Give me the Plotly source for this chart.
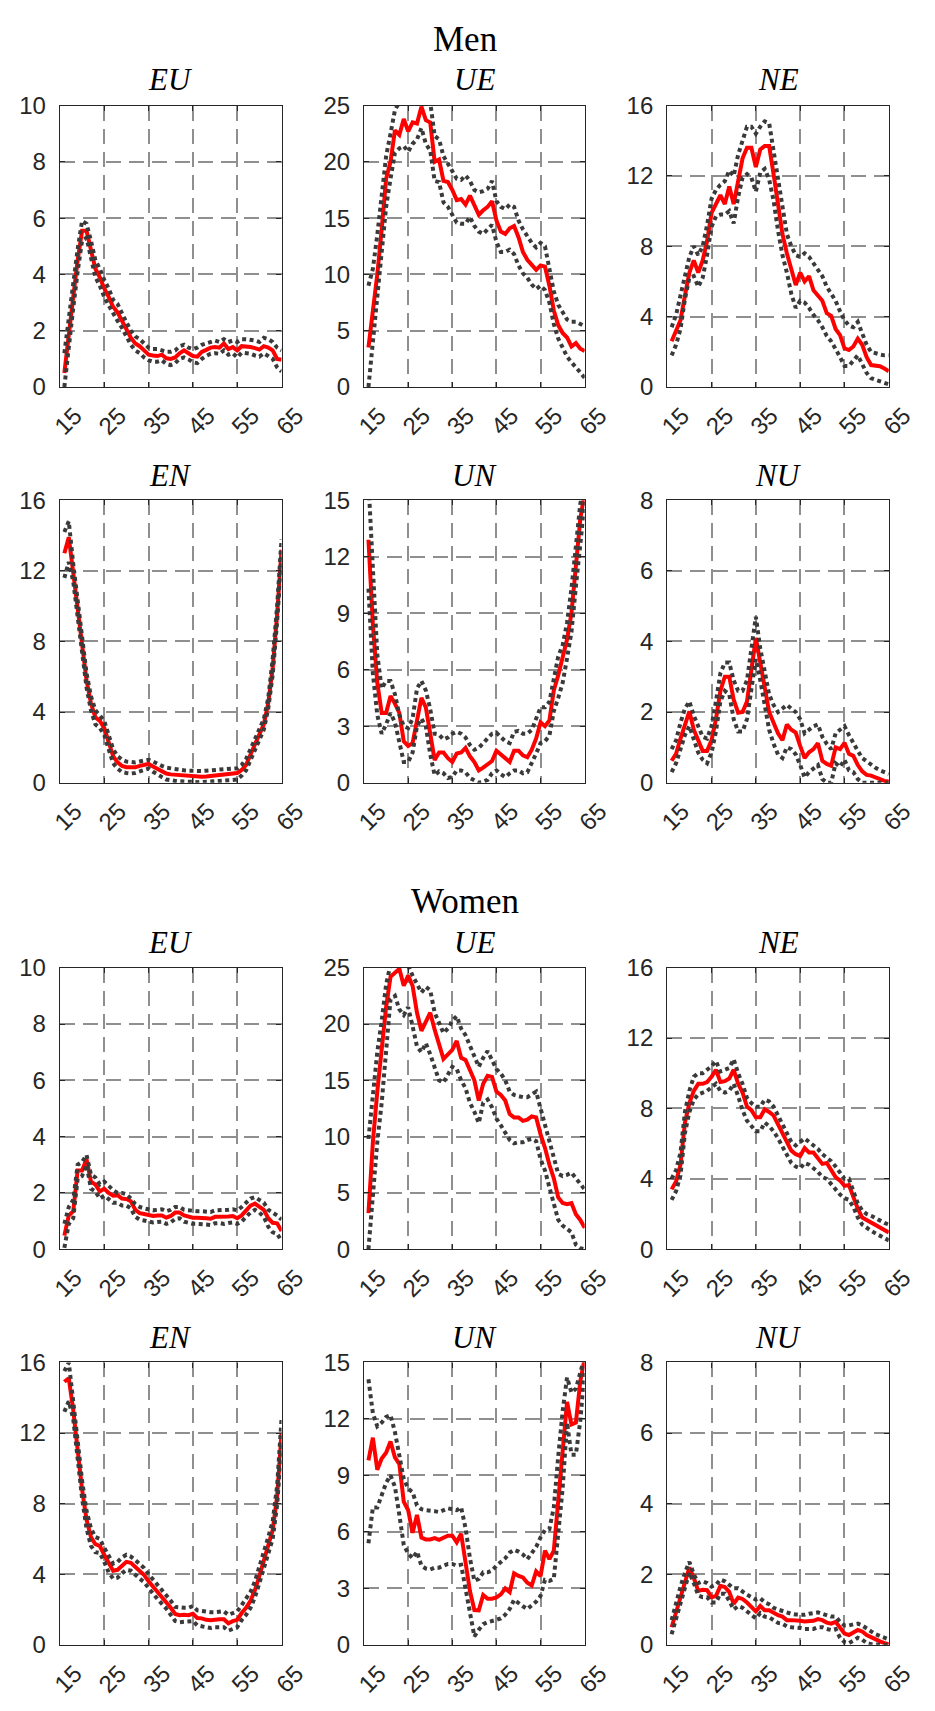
import plotly.graph_objects as go

# Age grid (years)
ages = list(range(16, 66))

# ---------------- Men ----------------
men_eu_mid = [0.5, 2.0, 3.2, 4.5, 5.55, 5.55, 4.9, 4.2, 3.9, 3.5,
              3.2, 2.85, 2.65, 2.35, 2.05, 1.75, 1.55, 1.45, 1.3, 1.15,
              1.12, 1.1, 1.15, 1.02, 1.0, 1.05, 1.2, 1.3, 1.2, 1.1,
              1.08, 1.25, 1.32, 1.4, 1.42, 1.4, 1.55, 1.35, 1.42, 1.3,
              1.45, 1.45, 1.42, 1.38, 1.33, 1.45, 1.4, 1.3, 1.0, 0.97]
men_eu_hi = [1.2, 2.5, 3.6, 4.9, 5.9, 5.8, 5.2, 4.5, 4.2, 3.8,
             3.5, 3.1, 2.95, 2.6, 2.3, 2.0, 1.8, 1.7, 1.55, 1.4,
             1.35, 1.35, 1.3, 1.25, 1.25, 1.3, 1.45, 1.5, 1.4, 1.35,
             1.4, 1.5, 1.55, 1.6, 1.65, 1.6, 1.7, 1.6, 1.65, 1.6,
             1.7, 1.7, 1.68, 1.65, 1.6, 1.75, 1.7, 1.6, 1.4, 1.3]
men_eu_lo = [0.0, 1.5, 2.8, 4.1, 5.2, 5.3, 4.6, 3.9, 3.6, 3.2,
             2.9, 2.6, 2.35, 2.1, 1.8, 1.5, 1.3, 1.2, 1.05, 0.95,
             0.9, 0.9, 0.95, 0.82, 0.78, 0.85, 1.0, 1.05, 0.98, 0.88,
             0.85, 1.0, 1.1, 1.18, 1.2, 1.18, 1.3, 1.15, 1.2, 1.05,
             1.22, 1.2, 1.18, 1.12, 1.08, 1.2, 1.1, 1.0, 0.7, 0.55]

men_ue_mid = [3.5, 6.5, 10.0, 14.0, 18.5, 20.0, 22.8, 22.4, 23.8, 22.7,
              23.5, 23.4, 24.9, 23.7, 23.5, 20.0, 20.2, 18.3, 18.2, 17.5,
              16.6, 16.7, 16.2, 17.0, 16.2, 15.3, 15.7, 16.0, 16.5, 14.8,
              13.8, 13.6, 14.1, 14.3, 13.3, 12.0, 11.3, 10.8, 10.4, 10.8,
              10.7, 9.0, 6.8, 5.5, 4.8, 4.4, 3.6, 3.9, 3.4, 3.2]
men_ue_hi = [9.0, 10.5, 13.5, 17.0, 20.5, 22.5, 24.6, 25.3, 25.5, 25.3,
             25.5, 25.5, 25.6, 25.5, 25.3, 22.3, 22.0, 20.5, 19.8, 19.2,
             18.5, 18.4, 18.8, 18.3, 17.5, 17.3, 17.4, 17.6, 18.3, 16.5,
             16.0, 15.8, 16.2, 16.0, 14.8, 14.0, 13.4, 12.8, 12.4, 12.8,
             12.5, 10.5, 8.5, 7.3, 6.6, 6.0, 5.8, 5.8, 5.6, 5.4]
men_ue_lo = [0.0, 4.0, 7.5, 11.5, 16.0, 18.5, 20.8, 21.2, 21.4, 20.9,
             21.6, 22.0, 23.0, 21.6, 21.0, 18.3, 18.2, 16.4, 16.0, 15.3,
             14.6, 14.5, 14.5, 15.1, 14.3, 13.8, 13.6, 14.0, 14.4, 12.9,
             12.0, 12.0, 12.2, 11.8, 10.8, 10.1, 9.7, 9.1, 8.7, 9.0,
             8.6, 7.5, 5.6, 4.3, 3.4, 2.7, 2.2, 1.8, 1.3, 0.8]

men_ne_mid = [2.6, 3.2, 3.8, 5.2, 6.5, 7.2, 6.5, 7.2, 8.3, 9.9,
              10.4, 10.9, 10.4, 11.4, 10.4, 11.8, 13.0, 13.6, 13.6, 12.5,
              13.5, 13.7, 13.7, 12.1, 10.5, 8.7, 7.6, 6.6, 5.8, 6.5,
              6.0, 6.3, 5.5, 5.2, 4.9, 4.2, 4.05, 3.3, 2.95, 2.2,
              2.1, 2.3, 2.75, 2.4, 1.7, 1.25, 1.2, 1.18, 1.05, 0.9]
men_ne_hi = [3.4, 4.1, 5.2, 6.4, 7.4, 8.0, 7.5, 8.0, 9.2, 10.7,
             11.2, 11.5, 11.7, 12.3, 12.0, 13.2, 14.1, 14.8, 14.8, 14.4,
             14.8, 15.1, 15.0, 13.4, 11.6, 10.0, 8.7, 8.0, 7.5, 7.4,
             7.6, 7.4, 7.0, 6.6, 6.3, 5.7, 5.3, 4.9, 4.3, 3.8,
             3.5, 3.4, 3.7, 3.0, 2.4, 2.0, 1.9, 1.85, 1.8, 1.8]
men_ne_lo = [1.8, 2.4, 3.3, 5.0, 6.2, 6.3, 5.7, 6.2, 7.5, 9.1,
             9.7, 9.8, 9.8, 10.0, 9.3, 10.8, 11.9, 12.1, 11.9, 11.1,
             12.2, 12.4, 11.8, 10.6, 8.9, 7.5, 6.5, 5.3, 4.5, 4.9,
             4.8, 4.5, 4.1, 3.8, 3.4, 2.9, 2.6, 2.2, 1.7, 1.2,
             1.2, 1.5, 1.8, 1.3, 0.8, 0.5, 0.4, 0.35, 0.25, 0.15]

men_en_mid = [13.0, 13.9, 11.9, 9.9, 7.6, 5.8, 4.5, 3.7, 3.5, 3.1,
              2.3, 1.5, 1.15, 0.95, 0.88, 0.85, 0.87, 0.95, 1.02, 1.06,
              0.92, 0.78, 0.65, 0.52, 0.47, 0.45, 0.42, 0.38, 0.35, 0.33,
              0.32, 0.33, 0.35, 0.38, 0.4, 0.43, 0.46, 0.48, 0.5, 0.55,
              0.72, 1.0, 1.6, 2.2, 2.7, 3.3, 4.5, 6.5, 9.5, 13.2]
men_en_hi = [14.2, 14.8, 12.4, 10.3, 8.0, 6.2, 4.9, 4.1, 3.8, 3.5,
             2.7, 1.9, 1.5, 1.3, 1.2, 1.15, 1.15, 1.2, 1.25, 1.3,
             1.2, 1.05, 0.95, 0.85, 0.8, 0.75, 0.72, 0.7, 0.68, 0.66,
             0.65, 0.66, 0.68, 0.7, 0.72, 0.74, 0.76, 0.78, 0.8, 0.82,
             1.0, 1.35, 1.9, 2.5, 3.0, 3.6, 4.8, 7.0, 10.0, 13.8]
men_en_lo = [11.6, 12.5, 11.4, 9.4, 7.2, 5.4, 4.1, 3.3, 3.1, 2.7,
             1.9, 1.1, 0.8, 0.6, 0.55, 0.52, 0.55, 0.65, 0.75, 0.8,
             0.62, 0.45, 0.32, 0.18, 0.12, 0.1, 0.08, 0.06, 0.05, 0.04,
             0.03, 0.04, 0.05, 0.06, 0.08, 0.1, 0.12, 0.14, 0.15, 0.18,
             0.4, 0.7, 1.3, 1.9, 2.4, 3.0, 4.2, 6.1, 9.1, 12.8]

men_un_mid = [12.9, 8.4, 5.3, 3.7, 3.7, 4.6, 4.2, 3.7, 2.2, 1.95,
              2.1, 3.4, 4.5, 4.0, 2.7, 1.2, 1.6, 1.6, 1.3, 1.1,
              1.55, 1.6, 1.85, 1.4, 1.1, 0.65, 0.8, 1.0, 1.15, 1.7,
              1.5, 1.35, 1.1, 1.7, 1.7, 1.45, 1.35, 1.75, 2.35, 3.2,
              3.0, 3.3, 4.9, 5.7, 6.6, 7.6, 9.0, 11.5, 14.0, 15.4]
men_un_hi = [16.0, 11.0, 6.8, 5.0, 5.4, 5.4, 4.7, 3.6, 3.0, 2.9,
             3.4, 5.0, 5.4, 4.9, 3.9, 2.6, 2.55, 2.3, 2.4, 2.6,
             2.7, 2.6, 2.4, 2.0, 1.75, 1.85, 2.1, 2.4, 2.6, 2.65,
             2.4, 2.2, 2.1, 2.7, 2.75, 2.6, 2.6, 2.8, 3.4, 4.0,
             4.0, 4.3, 5.5, 6.7, 7.3, 8.5, 10.3, 12.5, 14.8, 16.0]
men_un_lo = [10.3, 5.8, 3.6, 2.6, 3.1, 3.7, 3.2, 2.1, 1.1, 1.1,
             1.6, 3.0, 3.4, 3.0, 1.5, 0.4, 0.6, 0.5, 0.25, 0.3,
             0.65, 0.65, 0.55, 0.25, 0.1, 0.0, 0.05, 0.15, 0.5, 0.65,
             0.45, 0.3, 0.5, 0.65, 0.65, 0.5, 0.55, 1.0, 1.55, 2.1,
             2.2, 2.5, 3.8, 4.5, 5.3, 6.6, 8.0, 10.4, 12.9, 14.9]

men_nu_mid = [0.62, 0.82, 1.25, 1.6, 2.02, 1.5, 1.2, 0.9, 0.9, 1.2,
              1.8, 2.6, 3.0, 3.0, 2.35, 1.98, 2.0, 2.3, 3.2, 4.1,
              3.4, 2.7, 2.0, 1.7, 1.4, 1.2, 1.65, 1.5, 1.42, 1.04,
              0.7, 0.86, 0.95, 1.12, 0.62, 0.53, 0.48, 1.0, 0.95, 1.13,
              0.82, 0.76, 0.5, 0.32, 0.22, 0.2, 0.14, 0.1, 0.05, 0.03]
men_nu_hi = [0.95, 1.2, 1.7, 2.1, 2.3, 1.9, 1.6, 1.3, 1.25, 1.6,
             2.3, 3.1, 3.4, 3.4, 2.9, 2.6, 2.6, 2.9, 3.8, 4.7,
             3.8, 3.1, 2.5, 2.2, 2.0, 2.1, 2.2, 2.1, 2.0, 1.8,
             1.4, 1.5, 1.6, 1.65, 1.3, 1.1, 0.95, 1.4, 1.5, 1.6,
             1.35, 1.1, 0.9, 0.7, 0.6, 0.5, 0.42, 0.35, 0.3, 0.25]
men_nu_lo = [0.3, 0.55, 0.95, 1.35, 1.6, 1.2, 0.85, 0.65, 0.55, 0.85,
             1.45, 2.3, 2.6, 2.5, 1.8, 1.45, 1.45, 1.8, 2.7, 3.5,
             2.9, 2.2, 1.5, 1.1, 0.8, 0.7, 1.0, 0.95, 0.8, 0.5,
             0.15, 0.3, 0.4, 0.5, 0.1, 0.0, 0.0, 0.55, 0.45, 0.65,
             0.35, 0.3, 0.1, 0.0, 0.0, 0.0, 0.0, 0.0, 0.0, 0.0]

# ---------------- Women ----------------
women_eu_mid = [0.48, 1.2, 1.35, 2.8, 2.8, 3.2, 2.4, 2.3, 2.05, 2.15,
                2.0, 1.9, 1.92, 1.8, 1.78, 1.7, 1.4, 1.28, 1.25, 1.2,
                1.18, 1.2, 1.2, 1.12, 1.18, 1.3, 1.3, 1.2, 1.15, 1.12,
                1.12, 1.12, 1.1, 1.08, 1.15, 1.15, 1.14, 1.16, 1.18, 1.1,
                1.2, 1.4, 1.55, 1.62, 1.53, 1.4, 1.1, 0.94, 0.92, 0.65]
women_eu_hi = [0.9, 1.5, 1.75, 3.0, 3.1, 3.35, 2.65, 2.55, 2.3, 2.4,
               2.25, 2.1, 2.0, 2.0, 1.95, 1.8, 1.6, 1.5, 1.45, 1.4,
               1.38, 1.4, 1.42, 1.35, 1.4, 1.5, 1.5, 1.4, 1.38, 1.35,
               1.35, 1.35, 1.33, 1.32, 1.38, 1.38, 1.38, 1.4, 1.42, 1.38,
               1.5, 1.65, 1.8, 1.85, 1.75, 1.65, 1.4, 1.3, 1.2, 1.05]
women_eu_lo = [0.05, 0.9, 1.1, 2.5, 2.6, 3.0, 2.15, 2.05, 1.8, 1.9,
               1.78, 1.65, 1.65, 1.55, 1.55, 1.45, 1.15, 1.05, 1.02, 0.97,
               0.95, 0.97, 0.98, 0.9, 0.95, 1.08, 1.1, 0.98, 0.93, 0.9,
               0.9, 0.9, 0.88, 0.86, 0.92, 0.93, 0.9, 0.93, 0.95, 0.9,
               0.98, 1.15, 1.3, 1.4, 1.3, 1.15, 0.8, 0.6, 0.55, 0.3]

women_ue_mid = [3.2, 9.5, 14.0, 17.5, 21.5, 24.2, 24.5, 24.9, 23.4, 24.3,
                23.4, 21.0, 19.4, 20.3, 21.0, 19.5, 18.2, 16.9, 17.3, 17.7,
                18.5, 17.0, 16.8, 15.8, 15.0, 13.2, 14.7, 15.4, 15.3, 14.0,
                13.7, 13.2, 12.0, 11.7, 11.7, 11.4, 11.5, 11.8, 11.7, 10.2,
                9.0, 7.5, 6.3, 4.6, 4.1, 4.0, 4.1, 3.1, 2.6, 1.9]
women_ue_hi = [9.8, 14.0, 17.5, 20.3, 23.5, 25.3, 25.5, 25.5, 25.3, 25.2,
               24.3, 23.5, 22.8, 23.3, 23.0, 21.0, 20.0, 19.2, 19.6, 20.3,
               20.7, 19.6, 19.0, 18.0, 17.2, 16.2, 17.0, 17.6, 16.8, 16.0,
               15.6, 15.0, 14.0, 13.7, 13.6, 13.5, 13.5, 13.8, 14.0, 12.5,
               11.0, 9.5, 8.0, 6.7, 6.5, 6.6, 6.8, 6.3, 5.8, 5.3]
women_ue_lo = [0.0, 5.0, 9.5, 13.0, 18.0, 22.2, 22.5, 21.3, 20.8, 21.5,
               19.8, 18.0, 17.5, 18.3, 17.3, 16.0, 15.0, 14.8, 15.6, 16.2,
               16.0, 15.0, 14.3, 13.0, 12.2, 11.2, 13.0, 13.3, 12.6, 11.6,
               11.0, 10.3, 9.7, 9.4, 9.5, 9.5, 9.7, 9.8, 9.6, 8.0,
               7.0, 5.5, 4.0, 2.6, 2.1, 1.8, 1.5, 0.4, 0.1, 0.0]

women_ne_mid = [3.4, 3.85, 4.8, 7.2, 8.3, 9.0, 9.4, 9.4, 9.5, 9.8,
                10.2, 9.5, 9.55, 9.7, 10.2, 9.4, 8.9, 8.1, 7.9, 7.5,
                7.5, 7.95, 7.8, 7.6, 7.1, 6.6, 6.0, 5.6, 5.4, 5.3,
                5.75, 5.5, 5.5, 5.2, 4.85, 4.9, 4.5, 4.1, 3.9, 3.6,
                3.65, 2.9, 2.3, 1.8, 1.65, 1.55, 1.35, 1.2, 1.05, 0.95]
women_ne_hi = [4.0, 4.5, 5.5, 7.8, 9.0, 9.8, 10.0, 10.0, 10.2, 10.4,
               10.7, 10.1, 10.2, 10.3, 10.8, 10.0, 9.4, 8.6, 8.3, 8.1,
               8.1, 8.5, 8.4, 8.1, 7.6, 7.1, 6.5, 6.1, 5.9, 6.1,
               6.3, 6.1, 5.9, 5.7, 5.4, 5.2, 5.0, 4.7, 4.3, 4.0,
               4.0, 3.3, 2.6, 2.2, 2.0, 1.9, 1.75, 1.6, 1.5, 1.4]
women_ne_lo = [2.8, 3.3, 4.2, 6.6, 7.8, 8.5, 8.8, 8.9, 9.0, 9.2,
               9.4, 9.0, 8.9, 9.0, 9.4, 8.7, 7.9, 7.3, 7.0, 6.7,
               6.7, 7.2, 7.0, 6.7, 6.3, 5.8, 5.3, 4.9, 4.7, 4.6,
               4.9, 4.8, 4.6, 4.4, 4.1, 4.0, 3.7, 3.4, 3.1, 2.9,
               2.8, 2.4, 1.8, 1.4, 1.2, 1.05, 0.9, 0.75, 0.6, 0.5]

women_en_mid = [14.9, 15.1, 13.3, 11.0, 8.8, 7.1, 6.1, 5.7, 5.6, 5.1,
                4.6, 4.2, 4.25, 4.5, 4.7, 4.65, 4.4, 4.15, 3.95, 3.6,
                3.3, 3.0, 2.75, 2.45, 2.1, 1.75, 1.68, 1.7, 1.68, 1.76,
                1.52, 1.5, 1.42, 1.4, 1.45, 1.45, 1.45, 1.22, 1.34, 1.42,
                1.8, 2.1, 2.5, 3.1, 3.9, 4.8, 5.6, 6.5, 8.4, 12.0]
women_en_hi = [15.5, 16.0, 13.8, 11.5, 9.3, 7.6, 6.6, 6.1, 6.0, 5.5,
               5.0, 4.6, 4.7, 4.95, 5.1, 5.0, 4.8, 4.55, 4.35, 4.0,
               3.7, 3.4, 3.15, 2.85, 2.5, 2.15, 2.1, 2.1, 2.1, 2.2,
               1.95, 1.9, 1.85, 1.85, 1.85, 1.88, 1.9, 1.7, 1.8, 1.9,
               2.25, 2.6, 3.0, 3.6, 4.4, 5.3, 6.1, 7.0, 9.0, 12.8]
women_en_lo = [13.2, 13.8, 12.8, 10.5, 8.3, 6.6, 5.6, 5.25, 5.2, 4.7,
               4.1, 3.75, 3.8, 4.05, 4.25, 4.2, 3.95, 3.75, 3.55, 3.2,
               2.9, 2.6, 2.35, 2.05, 1.7, 1.35, 1.28, 1.3, 1.28, 1.35,
               1.1, 1.05, 0.98, 0.95, 1.0, 1.0, 1.0, 0.8, 0.9, 1.0,
               1.4, 1.7, 2.1, 2.7, 3.5, 4.4, 5.2, 6.0, 7.9, 11.3]

women_un_mid = [9.8, 11.0, 9.3, 9.9, 10.2, 10.8, 9.95, 9.6, 7.6, 7.15,
                5.95, 6.9, 5.7, 5.6, 5.6, 5.67, 5.58, 5.7, 5.8, 5.8,
                5.45, 5.9, 4.4, 2.85, 1.85, 1.83, 2.65, 2.45, 2.45, 2.52,
                2.68, 3.0, 2.8, 3.8, 3.66, 3.58, 3.3, 3.15, 3.9, 3.65,
                5.0, 4.55, 5.0, 7.6, 9.9, 12.9, 11.7, 11.8, 14.0, 15.2]
women_un_hi = [14.1, 12.3, 11.6, 11.8, 12.1, 12.2, 11.3, 10.1, 8.8, 8.3,
               8.1, 7.4, 7.2, 7.15, 7.15, 7.1, 7.05, 7.15, 7.25, 7.2,
               7.15, 7.3, 6.2, 4.6, 3.4, 3.5, 3.85, 3.85, 3.95, 4.2,
               4.4, 4.6, 4.9, 5.05, 4.95, 4.8, 4.55, 4.85, 5.2, 5.7,
               6.1, 6.15, 7.3, 10.0, 12.4, 14.2, 13.4, 13.6, 14.5, 15.3]
women_un_lo = [5.4, 7.3, 7.3, 8.0, 8.6, 9.0, 8.4, 6.9, 5.3, 4.85,
               4.6, 4.95, 4.2, 4.05, 4.0, 4.1, 4.1, 4.2, 4.3, 4.3,
               4.2, 4.25, 3.0, 1.6, 0.45, 0.8, 1.1, 1.2, 1.25, 1.3,
               1.4, 1.6, 1.9, 2.4, 2.2, 2.05, 1.9, 2.1, 2.3, 2.6,
               3.45, 3.4, 3.5, 5.9, 8.3, 11.8, 10.1, 10.1, 11.9, 14.6]

women_nu_mid = [0.5, 0.9, 1.3, 1.75, 2.19, 1.9, 1.53, 1.56, 1.55, 1.35,
                1.38, 1.67, 1.64, 1.5, 1.16, 1.34, 1.3, 1.2, 1.08, 0.95,
                1.1, 0.98, 0.98, 0.9, 0.84, 0.8, 0.7, 0.7, 0.7, 0.68,
                0.66, 0.66, 0.68, 0.73, 0.7, 0.63, 0.6, 0.65, 0.48, 0.32,
                0.28, 0.35, 0.42, 0.38, 0.28, 0.22, 0.15, 0.1, 0.05, 0.02]
women_nu_hi = [0.7, 1.2, 1.65, 2.05, 2.35, 2.0, 1.75, 1.8, 1.75, 1.65,
               1.7, 1.85, 1.8, 1.7, 1.6, 1.6, 1.5, 1.42, 1.35, 1.28,
               1.32, 1.2, 1.15, 1.05, 1.0, 0.95, 0.9, 0.88, 0.86, 0.85,
               0.85, 0.88, 0.9, 0.92, 0.88, 0.85, 0.8, 0.8, 0.65, 0.55,
               0.55, 0.58, 0.6, 0.55, 0.45, 0.38, 0.3, 0.25, 0.2, 0.15]
women_nu_lo = [0.3, 0.75, 1.15, 1.65, 2.05, 1.75, 1.4, 1.35, 1.35, 1.2,
               1.2, 1.45, 1.45, 1.25, 1.0, 1.1, 1.05, 0.95, 0.85, 0.75,
               0.9, 0.8, 0.78, 0.7, 0.62, 0.6, 0.52, 0.5, 0.5, 0.48,
               0.45, 0.45, 0.45, 0.5, 0.5, 0.45, 0.42, 0.45, 0.2, 0.08,
               0.05, 0.12, 0.2, 0.15, 0.05, 0.02, 0.0, 0.0, 0.0, 0.0]

# Panel titles, y-axis upper limits and tick steps (one row per flow)
flow_titles = ["EU", "UE", "NE", "EN", "UN", "NU"]
flow_ymax = [10, 25, 16, 16, 15, 8]
flow_dtick = [2, 5, 4, 4, 3, 2]
x_ticks = [15, 25, 35, 45, 55, 65]

men_series = [
    (men_eu_mid, men_eu_lo, men_eu_hi),
    (men_ue_mid, men_ue_lo, men_ue_hi),
    (men_ne_mid, men_ne_lo, men_ne_hi),
    (men_en_mid, men_en_lo, men_en_hi),
    (men_un_mid, men_un_lo, men_un_hi),
    (men_nu_mid, men_nu_lo, men_nu_hi),
]
women_series = [
    (women_eu_mid, women_eu_lo, women_eu_hi),
    (women_ue_mid, women_ue_lo, women_ue_hi),
    (women_ne_mid, women_ne_lo, women_ne_hi),
    (women_en_mid, women_en_lo, women_en_hi),
    (women_un_mid, women_un_lo, women_un_hi),
    (women_nu_mid, women_nu_lo, women_nu_hi),
]

for grp in (men_series, women_series):
    for s in grp:
        for arr in s:
            assert len(arr) == len(ages), len(arr)

# ---------------- layout geometry (pixels) ----------------
W, H = 935, 1711
col_px = [(51, 282), (368, 598), (684, 915)]
row_px = [(93, 379), (494, 781), (969, 1255), (1370, 1657)]
title_px = [67, 469, 943, 1345]

AXIS_COLOR = "#262626"
GRID_COLOR = "#8f8f8f"
TICK_FONT = dict(family="Liberation Sans, Arial, sans-serif", size=24, color=AXIS_COLOR)
SERIF = "Liberation Serif, Times New Roman, serif"

fig = go.Figure()
layout = dict(
    width=W, height=H,
    margin=dict(l=0, r=0, t=0, b=0),
    paper_bgcolor="white", plot_bgcolor="white",
    showlegend=False,
    annotations=[],
)

all_series = men_series + women_series
for k in range(12):
    row, col = divmod(k, 3)
    flow = k % 6
    idx = k + 1
    xa = "xaxis" if idx == 1 else f"xaxis{idx}"
    ya = "yaxis" if idx == 1 else f"yaxis{idx}"
    xr = "x" if idx == 1 else f"x{idx}"
    yr = "y" if idx == 1 else f"y{idx}"

    x0, x1 = col_px[col]
    y0, y1 = row_px[row]
    common = dict(
        showline=True, linecolor=AXIS_COLOR, linewidth=1.3, mirror="ticks",
        ticks="inside", ticklen=5, tickwidth=1.2, tickcolor=AXIS_COLOR,
        showgrid=True, gridcolor=GRID_COLOR, gridwidth=1.6, griddash="15px,8px",
        zeroline=False, tickfont=TICK_FONT,
    )
    layout[xa] = dict(
        domain=[x0 / W, x1 / W], anchor=yr, range=[15, 65],
        tickmode="array", tickvals=x_ticks, ticktext=[str(v) for v in x_ticks],
        tickangle=-45, ticklabelstandoff=4, ticklabelshift=15, **common,
    )
    layout[ya] = dict(
        domain=[1 - y1 / H, 1 - y0 / H], anchor=xr,
        range=[0, flow_ymax[flow]], tick0=0, dtick=flow_dtick[flow],
        ticklabelstandoff=8, **common,
    )

    mid, lo, hi = all_series[k]
    fig.add_trace(go.Scatter(x=ages, y=mid, xaxis=xr, yaxis=yr, mode="lines",
                             line=dict(color="#ff0000", width=4)))
    for band in (lo, hi):
        fig.add_trace(go.Scatter(x=ages, y=band, xaxis=xr, yaxis=yr, mode="lines",
                                 line=dict(color="#3a3a3a", width=4, dash="4px,3.5px")))

    layout["annotations"].append(dict(
        text=f"<i>{flow_titles[flow]}</i>", xref="paper", yref="paper",
        x=(x0 + x1) / 2 / W, y=1 - title_px[row] / H,
        xanchor="center", yanchor="middle", showarrow=False,
        font=dict(family=SERIF, size=31, color="black"),
    ))

for label, ypx in (("Men", 26), ("Women", 902)):
    layout["annotations"].append(dict(
        text=label, xref="paper", yref="paper", x=473 / W, y=1 - ypx / H,
        xanchor="center", yanchor="middle", showarrow=False,
        font=dict(family=SERIF, size=35, color="black"),
    ))

fig.update_layout(**layout)
fig.write_html("out.html")
